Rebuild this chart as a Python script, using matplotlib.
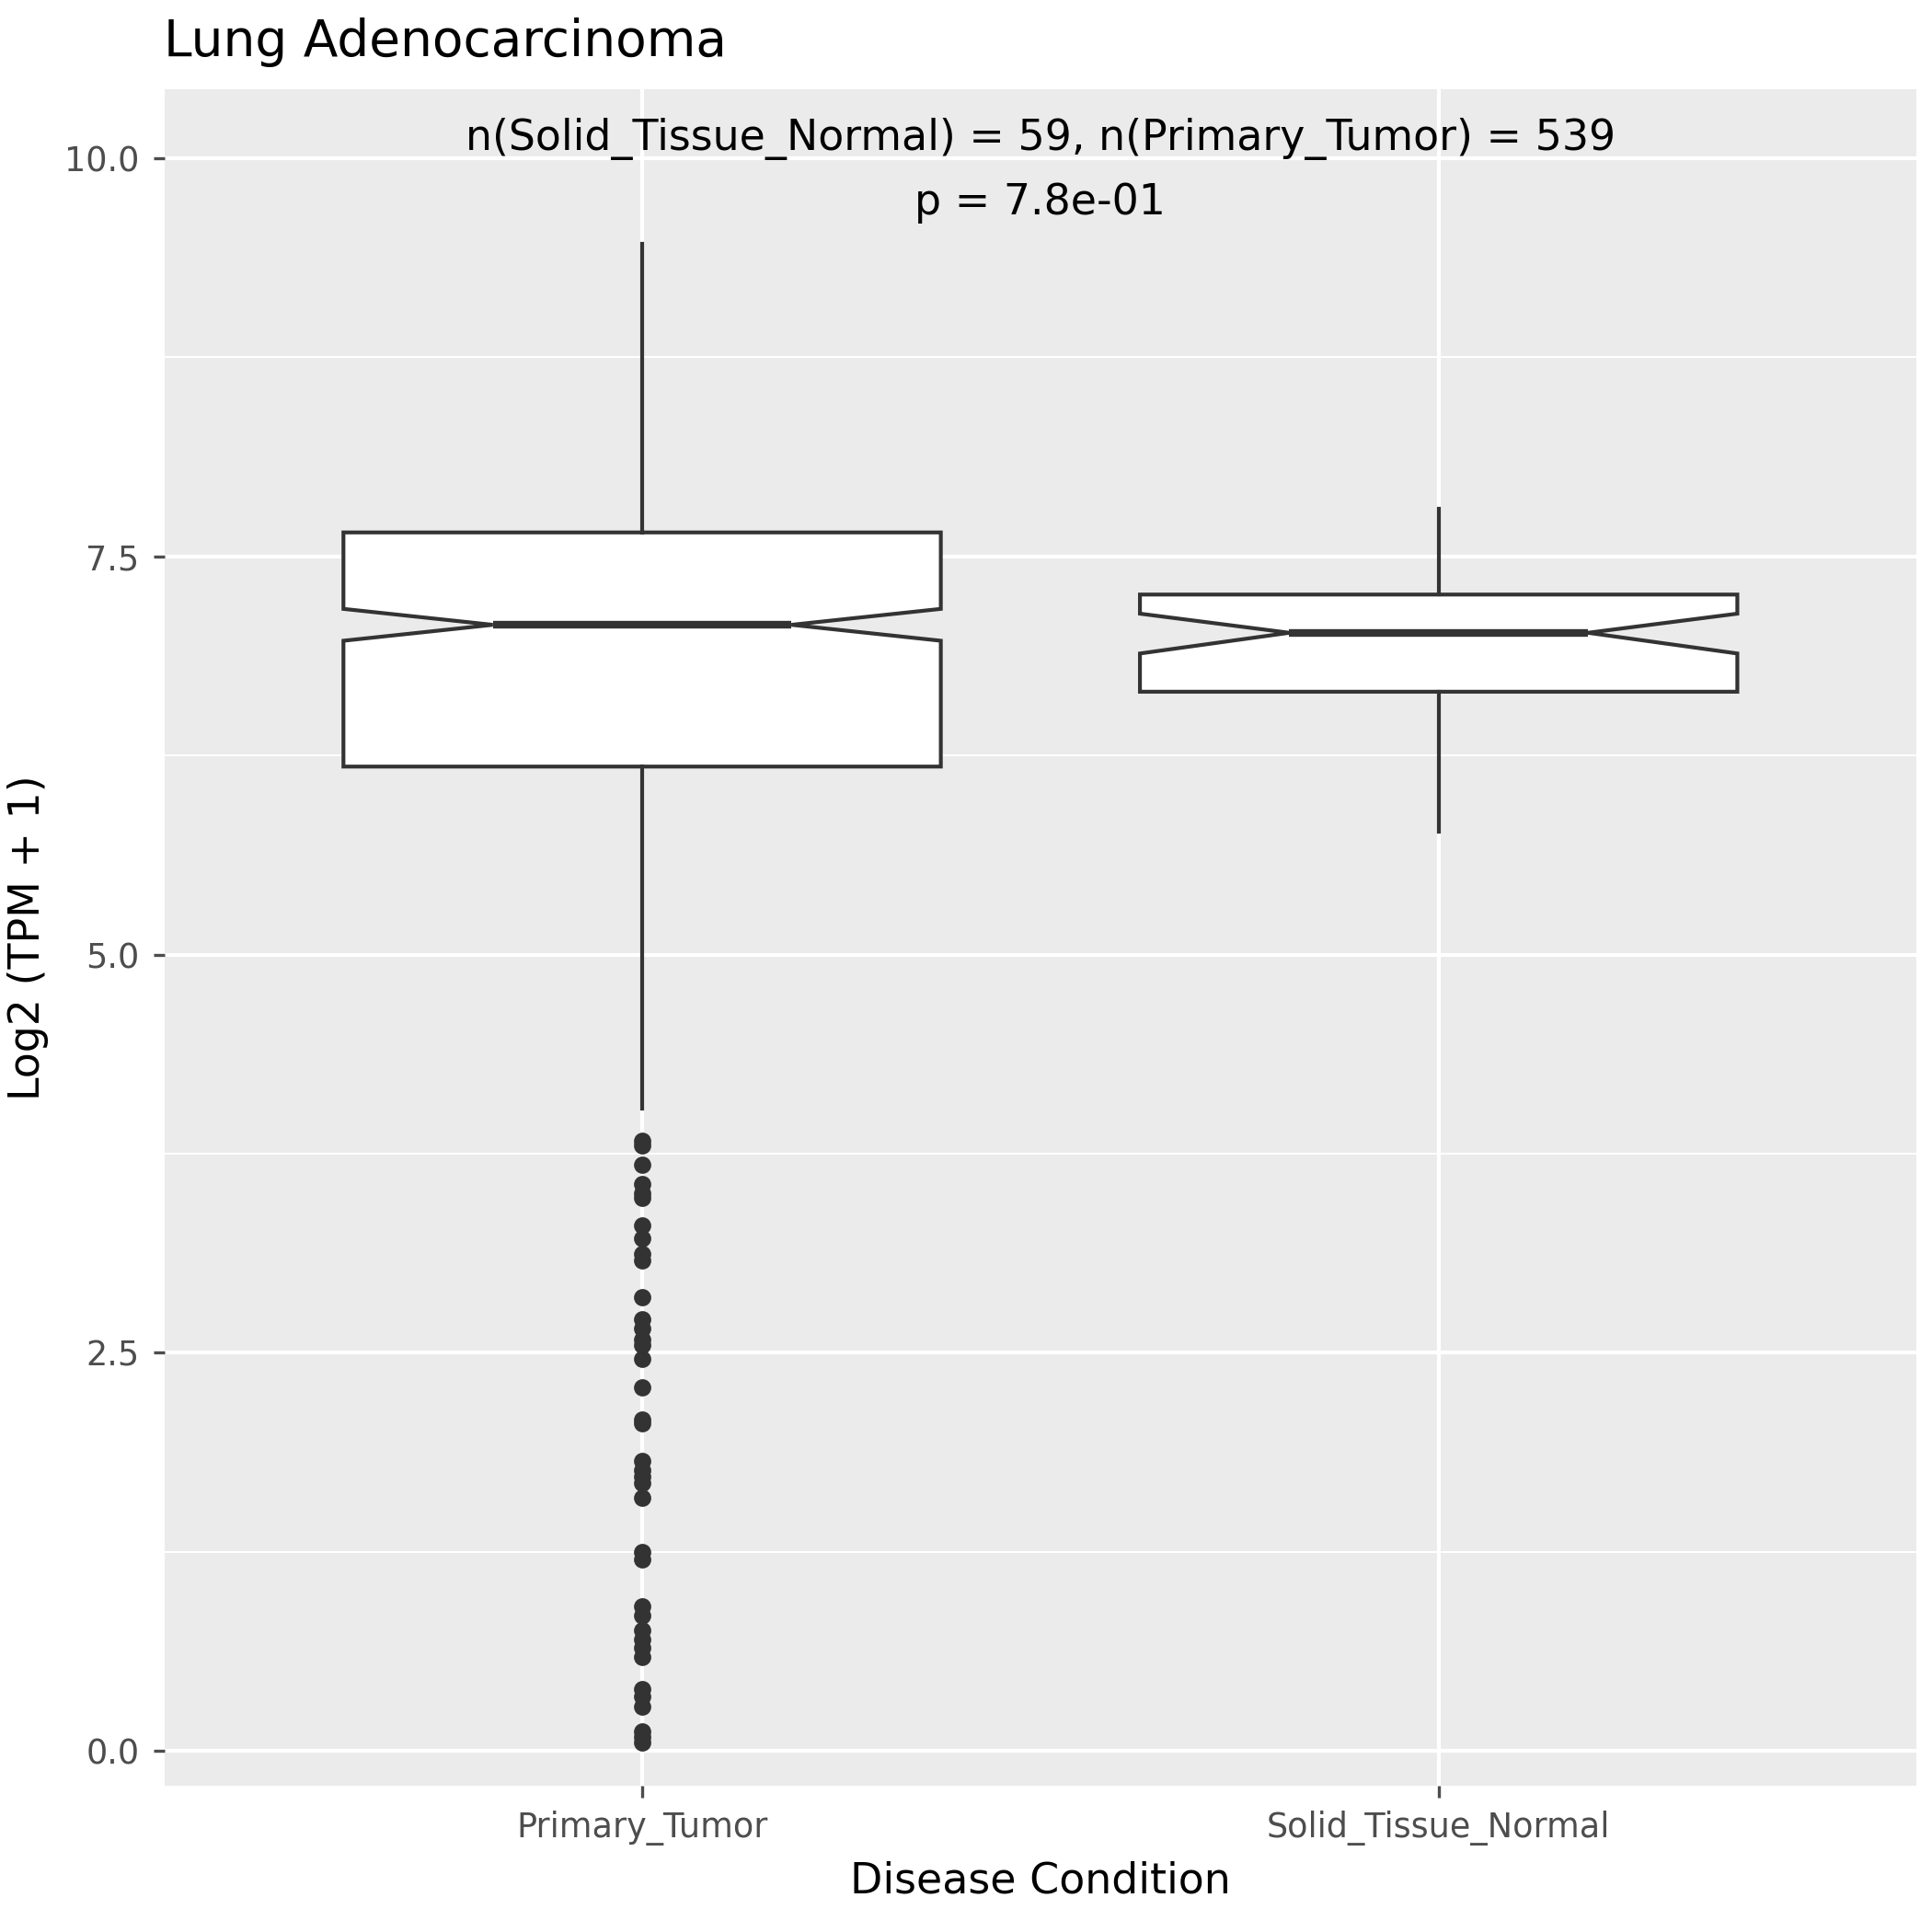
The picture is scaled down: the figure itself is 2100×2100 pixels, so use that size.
import matplotlib
matplotlib.use("Agg")
import matplotlib.pyplot as plt
import numpy as np

categories = ["Primary_Tumor", "Solid_Tissue_Normal"]
# whislo, q1, med, q3, whishi, notch low, notch high
box_stats = [
    [4.03, 6.18, 7.07, 7.65, 9.46, 6.97, 7.17],
    [5.77, 6.65, 7.02, 7.26, 7.80, 6.89, 7.14],
]
outliers_tumor = [3.83, 3.80, 3.68, 3.56, 3.50, 3.47, 3.30, 3.22, 3.12, 3.08,
                  2.85, 2.71, 2.65, 2.58, 2.55, 2.46, 2.28, 2.08, 2.06, 1.82,
                  1.76, 1.72, 1.68, 1.59, 1.25, 1.20, 0.91, 0.85, 0.76, 0.70,
                  0.65, 0.59, 0.39, 0.34, 0.28, 0.12, 0.09, 0.05]
n_normal, n_tumor = 59, 539
p_text = "p = 7.8e-01"

fig = plt.figure(figsize=(7, 7), dpi=300)
ax = fig.add_axes([0.085, 0.0756, 0.907, 0.878])
ax.set_facecolor("#EBEBEB")
for s in ax.spines.values():
    s.set_visible(False)

ax.set_xlim(0.4, 2.6)
ax.set_ylim(-0.22, 10.43)
for y in [1.25, 3.75, 6.25, 8.75]:
    ax.axhline(y, color="white", lw=0.5, zorder=0)
for y in [0, 2.5, 5, 7.5, 10]:
    ax.axhline(y, color="white", lw=1.0, zorder=0)
for x in [1, 2]:
    ax.axvline(x, color="white", lw=1.0, zorder=0)

stats = []
for i, (c, s) in enumerate(zip(categories, box_stats)):
    stats.append(dict(label=c, whislo=s[0], q1=s[1], med=s[2], q3=s[3], whishi=s[4],
                      cilo=s[5], cihi=s[6], fliers=outliers_tumor if i == 0 else []))
col = "#333333"
ax.bxp(stats, positions=[1, 2], widths=0.75, shownotches=True, patch_artist=True,
       showcaps=False,
       boxprops=dict(facecolor="white", edgecolor=col, linewidth=1.0),
       whiskerprops=dict(color=col, linewidth=1.0),
       medianprops=dict(color=col, linewidth=2.0),
       flierprops=dict(marker="o", markerfacecolor=col, markeredgecolor=col, markersize=3.5),
       zorder=2)

ax.set_xticks([1, 2])
ax.set_xticklabels(categories)
ax.set_yticks([0, 2.5, 5, 7.5, 10])
ax.set_yticklabels(["0.0", "2.5", "5.0", "7.5", "10.0"])
ax.tick_params(colors="#4D4D4D", labelsize=8.8, length=3, width=0.8)
ax.tick_params(axis="both", labelcolor="#4D4D4D")
ax.set_xlabel("Disease Condition", fontsize=11)
ax.set_ylabel("Log2 (TPM + 1)", fontsize=11)

ax.text(1.5, 10.12, f"n(Solid_Tissue_Normal) = {n_normal}, n(Primary_Tumor) = {n_tumor}",
        ha="center", va="center", fontsize=11)
ax.text(1.5, 9.72, p_text, ha="center", va="center", fontsize=11)
fig.text(0.085, 0.978, "Lung Adenocarcinoma", ha="left", va="center", fontsize=13.2)

fig.savefig("out.png", dpi=300)
